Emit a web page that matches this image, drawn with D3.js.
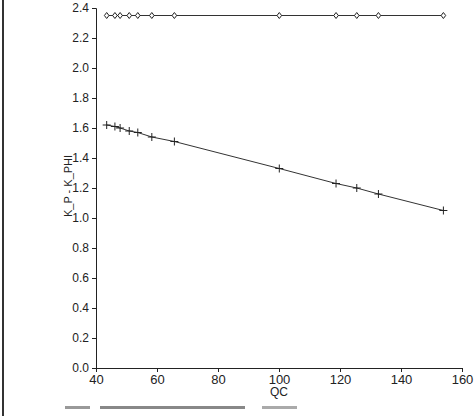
<!DOCTYPE html>
<html><head><meta charset="utf-8">
<script src="https://cdn.jsdelivr.net/npm/d3@7.9.0/dist/d3.min.js"></script>
<style>body{margin:0;background:#fff}svg{display:block}text{font-family:"Liberation Sans",Arial,sans-serif;fill:#222}</style>
</head><body><svg width="474" height="416"></svg>
<script>
const qc = [43.5, 46.2, 47.9, 50.9, 53.7, 58.3, 65.7, 100.1, 118.7, 125.5, 132.6, 153.9];
const upper = [2.35, 2.35, 2.35, 2.35, 2.35, 2.35, 2.35, 2.35, 2.35, 2.35, 2.35, 2.35];
const lower = [1.62, 1.61, 1.60, 1.58, 1.57, 1.54, 1.51, 1.33, 1.23, 1.20, 1.16, 1.05];
const xTicks = [40, 60, 80, 100, 120, 140, 160];
const yTicks = d3.range(0, 2.41, 0.2);

const svg = d3.select('svg');
const x = d3.scaleLinear().domain([40, 160]).range([96, 462]);
const y = d3.scaleLinear().domain([0, 2.4]).range([368, 8]);

// page edge marks
svg.append('line').attr('x1', 3).attr('x2', 3).attr('y1', 0).attr('y2', 416).attr('stroke', '#333').attr('stroke-width', 2);

const xa = svg.append('g').attr('transform', 'translate(0,368)')
  .call(d3.axisBottom(x).tickValues(xTicks).tickFormat(d3.format('d')).tickSize(4));
const ya = svg.append('g').attr('transform', 'translate(96,0)')
  .call(d3.axisLeft(y).tickValues(yTicks).tickFormat(d3.format('.1f')).tickSize(4));
[xa, ya].forEach(g => {
  g.select('.domain').attr('stroke', '#222');
  g.selectAll('line').attr('stroke', '#222');
  g.selectAll('text').style('font-size', '12px').attr('fill', '#222');
});
xa.selectAll('text').style('font-size', '13px');

svg.append('text').attr('x', x(100)).attr('y', 396).attr('text-anchor', 'middle').style('font-size', '12px').text('QC');
svg.append('text').attr('transform', 'translate(72,186) rotate(-90)').attr('text-anchor', 'middle').style('font-size', '11px').text('K_P - K_PHI');

const line = d3.line().x((d, i) => x(qc[i])).y(d => y(d));
svg.append('path').attr('d', line(upper)).attr('fill', 'none').attr('stroke', '#333').attr('stroke-width', 1);
svg.append('path').attr('d', line(lower)).attr('fill', 'none').attr('stroke', '#333').attr('stroke-width', 1);

svg.selectAll('.dia').data(upper).join('path')
  .attr('d', 'M0,-3L2.3,0L0,3L-2.3,0Z')
  .attr('transform', (d, i) => `translate(${x(qc[i])},${y(d)})`)
  .attr('fill', '#fff').attr('stroke', '#222');
svg.selectAll('.plus').data(lower).join('path')
  .attr('d', 'M-4,0H4M0,-4V4')
  .attr('transform', (d, i) => `translate(${x(qc[i])},${y(d)})`)
  .attr('stroke', '#222');

// scan strips at bottom
svg.append('rect').attr('x', 65).attr('y', 406).attr('width', 25).attr('height', 3).attr('fill', '#999');
svg.append('rect').attr('x', 100).attr('y', 406).attr('width', 145).attr('height', 3).attr('fill', '#888');
svg.append('rect').attr('x', 262).attr('y', 406).attr('width', 35).attr('height', 3).attr('fill', '#aaa');
</script></body></html>
